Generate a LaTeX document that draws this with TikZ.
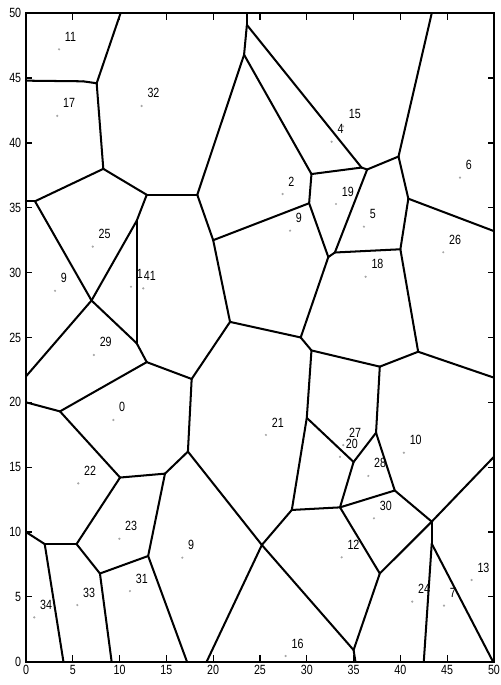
\documentclass[tikz,border=0pt]{standalone}
\usepackage{fontspec}
\setmainfont{Liberation Sans}
\newfontfamily\plotfont[FakeStretch=0.8]{Liberation Sans}

\begin{document}
\begin{tikzpicture}[x=0.1872cm, y=0.2594cm,
  edge/.style={line width=1.15pt, line cap=round, line join=round},
  frame/.style={line width=1.15pt},
  tick/.style={line width=0.7pt},
  site/.style={circle, fill=gray!70, inner sep=0pt, minimum size=1.4pt},
  lbl/.style={anchor=south west, inner sep=0pt, xshift=0.11cm, yshift=0.15cm,
    font=\plotfont\fontsize{7.6}{8}\selectfont},
  xtk/.style={anchor=north, inner sep=0pt, yshift=-0.06cm,
    font=\plotfont\fontsize{7.6}{8}\selectfont},
  ytk/.style={anchor=east, inner sep=0pt, xshift=-0.09cm,
    font=\plotfont\fontsize{7.6}{8}\selectfont}]

\useasboundingbox (-2.778,-1.796) rectangle (50.748,51.02);

% Frame and ticks
\draw[frame] (0,0) rectangle (50,50);
\foreach \t in {0,5,...,50} {
  \draw[tick] (\t,0) -- (\t,0.5) (\t,50) -- (\t,49.5);
  \draw[tick] (0,\t) -- (0.65,\t) (50,\t) -- (49.35,\t);
  \node[xtk] (xt\t) at (\t,0) {\t};
  \node[ytk] (yt\t) at (0,\t) {\t};
}

% Cell vertices
\coordinate (t1) at (10.1,50);
\coordinate (t2) at (23.6,50);
\coordinate (t3) at (43.35,50);
\coordinate (l1) at (0,44.8);
\coordinate (l2) at (0,35.5);
\coordinate (l3) at (0,22.0);
\coordinate (l4) at (0,20.0);
\coordinate (l5) at (0,10.0);
\coordinate (r1) at (50,21.9);
\coordinate (r2) at (50,15.8);
\coordinate (r3) at (50,33.2);
\coordinate (b1) at (19.3,0);
\coordinate (b2) at (35.2,0);
\coordinate (b3) at (42.5,0);
\coordinate (b4) at (49.9,0);
\coordinate (b5) at (17.2,0);
\coordinate (b6) at (9.15,0);
\coordinate (b7) at (4.0,0);
\coordinate (w1) at (6.1,44.75);
\coordinate (v1) at (7.55,44.6);
\coordinate (v2) at (8.26,38.0);
\coordinate (v3) at (0.96,35.5);
\coordinate (v4) at (12.9,36.0);
\coordinate (v5) at (18.3,36.0);
\coordinate (v6) at (23.3,46.8);
\coordinate (v7) at (23.6,49.1);
\coordinate (v8) at (20.0,32.5);
\coordinate (v9) at (21.8,26.2);
\coordinate (v10) at (17.7,21.8);
\coordinate (v11) at (12.9,23.1);
\coordinate (v12) at (11.83,24.55);
\coordinate (v13) at (11.83,34.0);
\coordinate (vx) at (7.0,27.85);
\coordinate (v14) at (3.63,19.3);
\coordinate (v15) at (17.3,16.2);
\coordinate (v16) at (30.25,35.35);
\coordinate (v17) at (29.35,25.0);
\coordinate (v18) at (30.5,24.0);
\coordinate (vA) at (32.3,31.2);
\coordinate (vB) at (33.0,31.55);
\coordinate (vC) at (36.45,37.95);
\coordinate (vD) at (35.85,38.1);
\coordinate (p1) at (30.5,37.6);
\coordinate (v19) at (37.8,22.75);
\coordinate (v20) at (41.9,23.9);
\coordinate (v21) at (30.0,18.8);
\coordinate (v22) at (35.0,15.4);
\coordinate (v23) at (28.4,11.7);
\coordinate (v24) at (37.4,17.65);
\coordinate (v25) at (39.4,13.2);
\coordinate (v26) at (33.55,11.9);
\coordinate (v27) at (25.2,9.0);
\coordinate (v28) at (35.0,0.9);
\coordinate (v29) at (37.8,6.8);
\coordinate (v30) at (43.35,10.8);
\coordinate (v31) at (43.35,9.1);
\coordinate (v32) at (40.0,31.8);
\coordinate (v33) at (40.85,35.7);
\coordinate (v34) at (39.8,38.95);
\coordinate (v35) at (10.05,14.2);
\coordinate (v36) at (14.85,14.5);
\coordinate (v37) at (13.05,8.15);
\coordinate (v38) at (7.9,6.8);
\coordinate (v39) at (5.4,9.07);
\coordinate (v40) at (2.0,9.07);

% Cell edges
\foreach \a/\b in {t1/v1, v1/w1, w1/l1, v1/v2, v2/v3, v3/l2, v2/v4, v4/v5,
  v5/v6, v6/v7, v7/t2, v5/v8, v4/v13, v13/vx, v13/v12, v3/vx, vx/v12,
  v12/v11, vx/l3, v11/v14, v14/l4, v11/v10, v10/v9, v9/v8, v10/v15,
  v8/v16, v9/v17, v17/v18, v17/vA, vA/vB, vA/v16, v16/p1, p1/vD, vD/vC,
  v7/vD, v6/p1, vC/vB, vC/v34, v34/t3, v34/v33, v33/r3, v33/v32, vB/v32,
  v32/v20, v20/r1, v20/v19, v19/v18, v18/v21, v19/v24, v21/v22, v22/v24,
  v24/v25, v22/v26, v21/v23, v23/v26, v26/v25, v26/v29, v25/v30,
  v23/v27, v27/v15, v27/b1, v27/v28, v28/b2, v28/v29, v29/v30, v30/r2,
  v30/v31, v31/b3, v31/b4, v15/v36, v36/v35, v35/v14, v36/v37, v37/b5,
  v37/v38, v38/b6, v38/v39, v39/v35, v39/v40, v40/l5, v40/b7}
  \draw[edge] (\a) -- (\b);

% Sites
\foreach \n/\x/\y [count=\i] in {11/3.53/47.22, 17/3.34/42.09, 32/12.36/42.85,
  4/32.66/40.09, 15/33.87/41.27, 6/46.37/37.32, 2/27.42/36.06,
  19/33.12/35.29, 5/36.11/33.54, 9/28.21/33.23, 26/44.58/31.57,
  18/36.29/29.68, 25/7.13/32.0, 9/3.1/28.6, 1/11.22/28.91,
  29/7.26/23.65, 0/9.33/18.64, 21/25.64/17.48, 27/33.9/16.7,
  20/33.55/15.8, 10/40.38/16.11, 28/36.57/14.32, 30/37.18/11.06,
  12/33.73/8.05, 13/47.62/6.3, 24/41.27/4.63, 7/44.66/4.32,
  16/27.75/0.44, 22/5.59/13.75, 23/9.97/9.48, 9/16.7/8.02,
  31/11.11/5.45, 33/5.48/4.37, 34/0.89/3.42} {
  \node[site] (s\i) at (\x,\y) {};
  \node[lbl] (n\i) at (s\i) {\n};
}
\node[site] (s41) at (12.53,28.79) {};
\node[lbl, xshift=-0.105cm] (n41) at (s41) {41};
\end{tikzpicture}
\end{document}
